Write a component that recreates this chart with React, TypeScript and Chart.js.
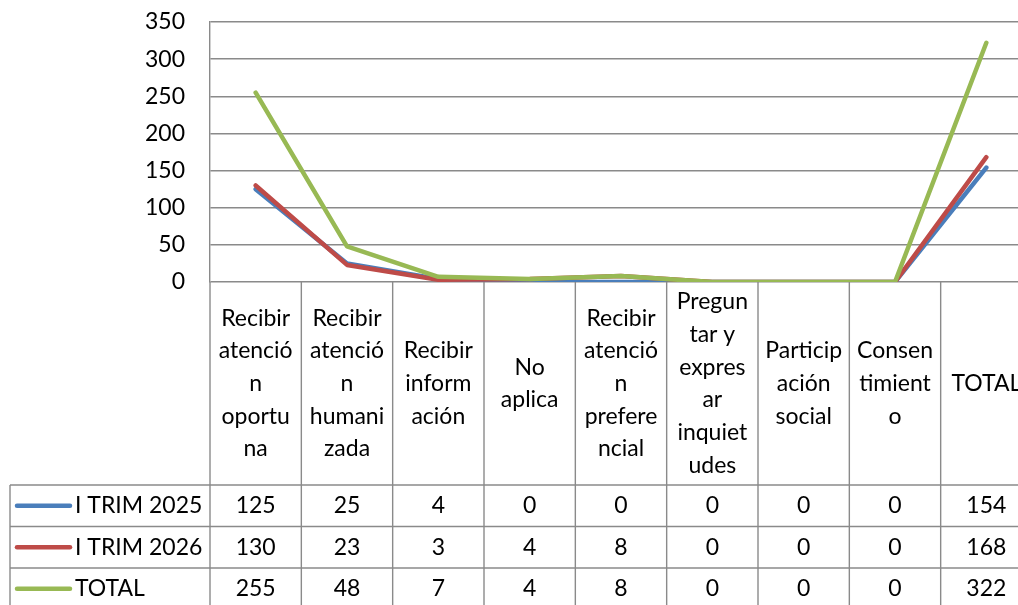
import { useEffect, useRef } from "react";
import { Chart, registerables } from "chart.js";

Chart.register(...registerables);

const categories = [
  "Recibir atención oportuna",
  "Recibir atención humanizada",
  "Recibir información",
  "No aplica",
  "Recibir atención preferencial",
  "Preguntar y expresar inquietudes",
  "Participación social",
  "Consentimiento",
  "TOTAL",
];

const categoryLines = [
  ["Recibir", "atenció", "n", "oportu", "na"],
  ["Recibir", "atenció", "n", "humani", "zada"],
  ["Recibir", "inform", "ación"],
  ["No", "aplica"],
  ["Recibir", "atenció", "n", "prefere", "ncial"],
  ["Pregun", "tar y", "expres", "ar", "inquiet", "udes"],
  ["Particip", "ación", "social"],
  ["Consen", "timient", "o"],
  ["TOTAL"],
];

const seriesNames = ["I TRIM 2025", "I TRIM 2026", "TOTAL"];
const trim2025 = [125, 25, 4, 0, 0, 0, 0, 0, 154];
const trim2026 = [130, 23, 3, 4, 8, 0, 0, 0, 168];
const totals = [255, 48, 7, 4, 8, 0, 0, 0, 322];
const seriesColors = ["#4A7EBB", "#BE4B48", "#98B954"];

const yMin = 0;
const yMax = 350;
const yStep = 50;

const FONT = "Lato, 'Noto Sans', sans-serif";
const FONT_SIZE = 23;
const GRID = "#8a8a8a";

const tablePlugin = {
  id: "dataTable",
  afterDraw(chart: any) {
    const ctx = chart.ctx as CanvasRenderingContext2D;
    const xs = chart.scales.x;
    const area = chart.chartArea;
    const n = categories.length;
    const colW = (area.right - area.left) / n;
    const headerTop = area.bottom;
    const headerBottom = area.bottom + 203;
    const rowH = 41.5;
    const lineH = 32.7;
    const legendLeft = 10;
    const bottom = chart.height + 10;
    const series = [trim2025, trim2026, totals];

    ctx.save();
    ctx.strokeStyle = GRID;
    ctx.lineWidth = 1.4;
    for (let i = 0; i <= n; i++) {
      const ex = i < n ? xs.getPixelForValue(i) - colW / 2 : xs.getPixelForValue(n - 1) + colW / 2;
      ctx.beginPath();
      ctx.moveTo(ex, headerTop);
      ctx.lineTo(ex, bottom);
      ctx.stroke();
    }
    ctx.beginPath();
    ctx.moveTo(legendLeft, headerBottom);
    ctx.lineTo(legendLeft, bottom);
    ctx.stroke();
    for (let r = 0; r <= series.length; r++) {
      const ry = headerBottom + r * rowH;
      ctx.beginPath();
      ctx.moveTo(legendLeft, ry);
      ctx.lineTo(area.right, ry);
      ctx.stroke();
    }

    ctx.fillStyle = "#000";
    ctx.font = `${FONT_SIZE}px ${FONT}`;
    ctx.textAlign = "center";
    ctx.textBaseline = "middle";
    const headerCenter = (headerTop + headerBottom) / 2;
    categoryLines.forEach((lines, i) => {
      const cx = xs.getPixelForValue(i);
      const startY = headerCenter - ((lines.length - 1) / 2) * lineH;
      lines.forEach((ln, k) => ctx.fillText(ln, cx, startY + k * lineH));
    });
    series.forEach((vals, r) => {
      const cy = headerBottom + r * rowH + rowH / 2;
      vals.forEach((v, i) => ctx.fillText(String(v), xs.getPixelForValue(i), cy));
    });
    series.forEach((_, r) => {
      const cy = headerBottom + r * rowH + rowH / 2;
      ctx.strokeStyle = seriesColors[r];
      ctx.lineWidth = 4.5;
      ctx.lineCap = "round";
      ctx.beginPath();
      ctx.moveTo(17, cy);
      ctx.lineTo(70, cy);
      ctx.stroke();
      ctx.textAlign = "left";
      ctx.fillText(seriesNames[r], 75, cy);
    });
    ctx.restore();
  },
};

export default function App() {
  const ref = useRef<HTMLCanvasElement>(null);

  useEffect(() => {
    if (!ref.current) return;
    const data = [trim2025, trim2026, totals];
    const chart = new Chart(ref.current, {
      type: "line",
      data: {
        labels: categories,
        datasets: seriesNames.map((name, i) => ({
          label: name,
          data: data[i],
          borderColor: seriesColors[i],
          backgroundColor: seriesColors[i],
          borderWidth: 4.5,
          pointRadius: 0,
          pointHoverRadius: 0,
          tension: 0,
          borderCapStyle: "round" as const,
          borderJoinStyle: "round" as const,
          order: seriesNames.length - i,
          fill: false,
        })),
      },
      options: {
        animation: false,
        responsive: false,
        devicePixelRatio: 1,
        layout: { padding: { left: 0, top: 22, right: 8, bottom: 323 } },
        plugins: { legend: { display: false }, tooltip: { enabled: false } },
        scales: {
          x: { display: false, offset: true },
          y: {
            min: yMin,
            max: yMax,
            ticks: {
              stepSize: yStep,
              color: "#000",
              padding: 25,
              font: { family: FONT, size: FONT_SIZE },
            },
            grid: { color: GRID, lineWidth: 1.4, drawTicks: false },
            border: { display: true, color: GRID, width: 1.4 },
            afterFit: (scale: any) => {
              scale.width = 210;
              scale.paddingTop = 0;
              scale.paddingBottom = 0;
            },
          },
        },
      },
      plugins: [tablePlugin],
    });
    return () => chart.destroy();
  }, []);

  return (
    <div
      style={{
        position: "fixed",
        left: 0,
        top: 0,
        width: 1018,
        height: 605,
        overflow: "hidden",
        background: "#fff",
      }}
    >
      <canvas ref={ref} width={1040} height={605} style={{ display: "block" }} />
    </div>
  );
}
